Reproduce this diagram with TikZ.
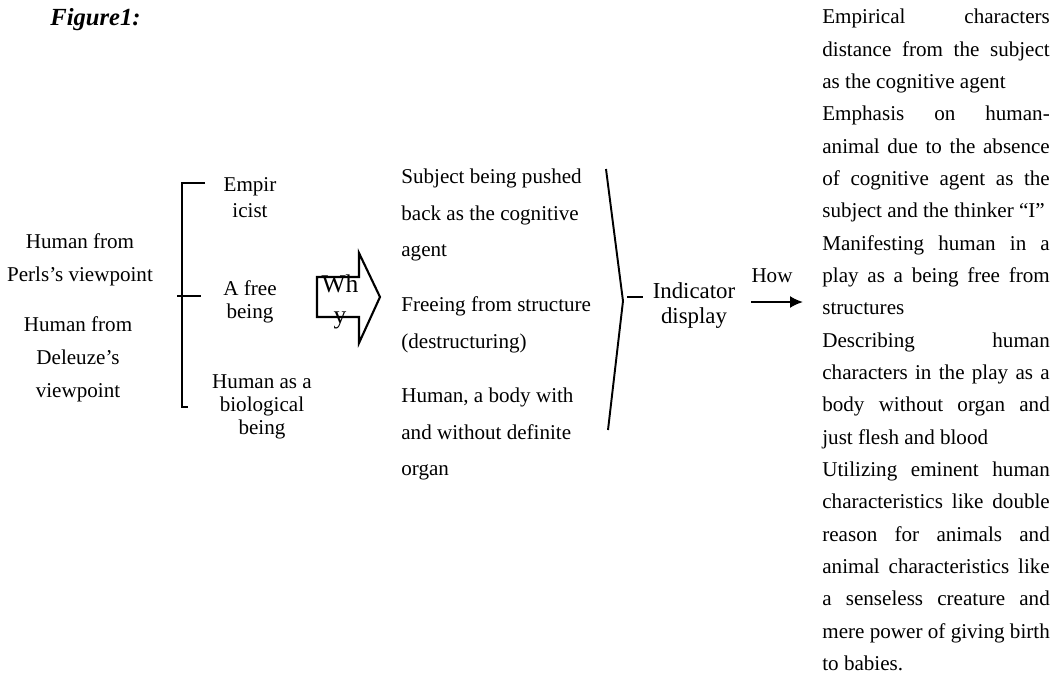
\documentclass[tikz,border=0pt]{standalone}
\usepackage{fontspec}
\setmainfont{Liberation Serif}
\usetikzlibrary{arrows.meta, positioning}
\tikzstyle{arrow} = [line width=1.1pt,-{Latex[length=0.26cm,width=0.24cm]}]
\tikzstyle{brace} = [line width=1.1pt]
\tikzstyle{block} = [line width=1.2pt, line join=miter]
\tikzstyle{txt} = [inner sep=0pt, align=center, font=\fontsize{12}{18.8}\selectfont]
\tikzstyle{branch} = [inner sep=0pt, align=center, font=\fontsize{12}{13}\selectfont]
\tikzstyle{reason} = [inner sep=0pt, align=left, anchor=west, font=\fontsize{12}{20.8}\selectfont]
\tikzstyle{column} = [inner sep=0pt, text width=4.55cm, align=justify, anchor=west, font=\fontsize{12}{18.4}\selectfont\parindent0pt]

\begin{document}
\begin{tikzpicture}[x=0.02cm, y=-0.02cm]
\useasboundingbox (0,0) rectangle (1063,674);

% Title
\node (fig) [inner sep=0pt, anchor=west, font=\fontsize{14}{16}\selectfont\bfseries\itshape] at (50,20) {Figure1:};

% Viewpoints
\node (perls) [txt] at (80,260) {Human from\\Perls’s viewpoint};
\node (deleuze) [txt] at (78,359) {Human from\\Deleuze’s\\viewpoint};

% Branches
\draw [brace] (205,183) -- (182,183) -- (182,407) -- (188,407);
\draw [brace] (177,296) -- (201,296);
\node (empir) [branch, font=\fontsize{12}{14.8}\selectfont] at (250,198) {Empir\\icist};
\node (free) [branch] at (250,302) {A free\\being};
\node (bio) [branch] at (262,407) {Human as a\\biological\\being};

% Why
\draw [block] (317,277) -- (359,277) -- (359,253) -- (380,297) -- (359,343) -- (359,317) -- (317,317) -- cycle;
\node (why) [txt, font=\fontsize{14.5}{17.6}\selectfont] at (340,302) {Wh\\y};

% Reasons
\node (pushed) [reason] at (401,215) {Subject being pushed\\back as the cognitive\\agent};
\node (freeing) [reason] at (401,325) {Freeing from structure\\(destructuring)};
\node (organ) [reason] at (401,434) {Human, a body with\\and without definite\\organ};

% Indicator
\draw [brace] (606,169) -- (623,301) -- (608,430);
\draw [brace] (627,297) -- (643,297);
\node (indicator) [txt, font=\fontsize{13}{14.2}\selectfont] at (694,306) {Indicator\\display};

% How
\coordinate (howstart) at (751,302);
\coordinate (howend) at (803,302);
\draw [arrow] (howstart) -- (howend);
\node (how) [txt] at (772,276) {How};

% Features
\node (features) [column] at (822,340) {Empirical characters\linebreak
distance from the subject\linebreak
as the cognitive agent\par
Emphasis on human-\linebreak
animal due to the absence\linebreak
of cognitive agent as the\linebreak
subject and the thinker “I”\par
Manifesting human in a\linebreak
play as a being free from\linebreak
structures\par
Describing human\linebreak
characters in the play as a\linebreak
body without organ and\linebreak
just flesh and blood\par
Utilizing eminent human\linebreak
characteristics like double\linebreak
reason for animals and\linebreak
animal characteristics like\linebreak
a senseless creature and\linebreak
mere power of giving birth\linebreak
to babies.};

\end{tikzpicture}
\end{document}
